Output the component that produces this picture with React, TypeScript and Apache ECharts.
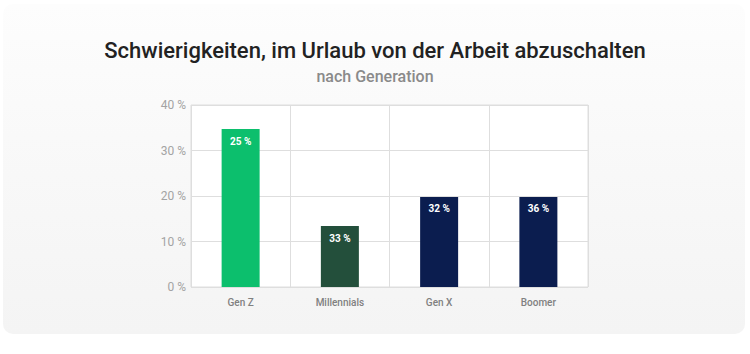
import React, { useEffect, useRef } from "react";
import * as echarts from "echarts";

const categories = ["Gen Z", "Millennials", "Gen X", "Boomer"];
const barValues = [34.7, 13.4, 19.8, 19.8];
const barLabels = ["25 %", "33 %", "32 %", "36 %"];
const barColors = ["#0cbf6d", "#234f3b", "#0b1d4f", "#0b1d4f"];
const yTicks = [0, 10, 20, 30, 40];

export default function App() {
  const ref = useRef<HTMLDivElement>(null);
  useEffect(() => {
    if (!ref.current) return;
    const chart = echarts.init(ref.current, null, { renderer: "svg" });
    chart.setOption({
      animation: false,
      title: [
        {
          text: "Schwierigkeiten, im Urlaub von der Arbeit abzuschalten",
          left: "center",
          top: 34,
          textStyle: { fontFamily: "Roboto", fontSize: 22, fontWeight: 500, color: "#222" },
        },
        {
          text: "nach Generation",
          left: "center",
          top: 63,
          textStyle: { fontFamily: "Roboto", fontSize: 16, fontWeight: 500, color: "#8a8a8a" },
        },
      ],
      grid: {
        left: 191,
        top: 105,
        width: 397,
        height: 182,
        show: true,
        backgroundColor: "#ffffff",
        borderColor: "#dedede",
        borderWidth: 1,
      },
      xAxis: {
        type: "category",
        data: categories,
        axisLine: { show: false },
        axisTick: { show: false },
        splitLine: { show: true, lineStyle: { color: "#dedede" } },
        axisLabel: {
          margin: 10,
          color: "#808080",
          fontFamily: "Roboto",
          fontSize: 10,
          fontWeight: 500,
        },
      },
      yAxis: {
        type: "value",
        min: yTicks[0],
        max: yTicks[yTicks.length - 1],
        interval: 10,
        axisLine: { show: false },
        axisTick: { show: false },
        splitLine: { show: true, lineStyle: { color: "#dedede" } },
        axisLabel: {
          margin: 5,
          color: "#a3a3a3",
          fontFamily: "Roboto",
          fontSize: 12,
          formatter: (v: number) => `${v} %`,
        },
      },
      series: [
        {
          type: "bar",
          barWidth: 38,
          data: barValues.map((v, i) => ({ value: v, itemStyle: { color: barColors[i] } })),
          label: {
            show: true,
            position: "insideTop",
            distance: 7,
            color: "#ffffff",
            fontFamily: "Roboto",
            fontSize: 10,
            fontWeight: "bold",
            formatter: (p: any) => barLabels[p.dataIndex],
          },
        },
      ],
    });
    return () => chart.dispose();
  }, []);
  return (
    <div style={{ position: "fixed", left: 0, top: 0, width: 750, height: 354, background: "#ffffff" }}>
      <div
        style={{
          position: "absolute",
          left: 3,
          top: 4,
          width: 742,
          height: 330,
          borderRadius: 10,
          background: "linear-gradient(to bottom, #fdfdfd 0%, #f9f9f9 40%, #f4f4f4 100%)",
        }}
      />
      <div ref={ref} style={{ position: "absolute", left: 0, top: 0, width: 750, height: 354 }} />
    </div>
  );
}
